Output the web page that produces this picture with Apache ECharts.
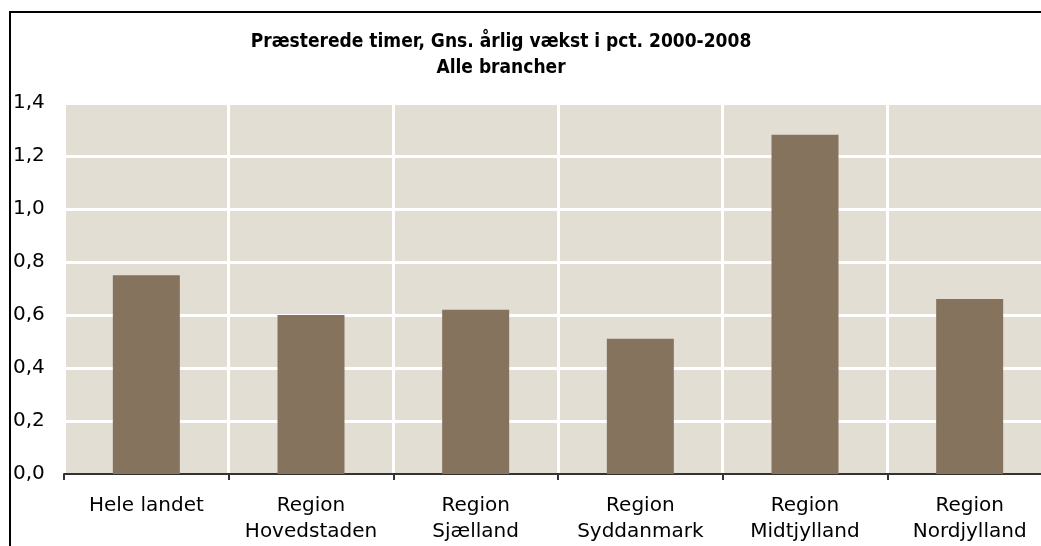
<!DOCTYPE html>
<html>
<head>
<meta charset="utf-8">
<script src="https://cdn.jsdelivr.net/npm/echarts@6/dist/echarts.min.js"></script>
<style>
  html, body { margin: 0; padding: 0; background: #fff; overflow: hidden; }
  #wrap { position: relative; width: 1041px; height: 546px; overflow: hidden; }
  #chart { position: absolute; left: 0; top: 0; width: 1060px; height: 546px; }
  #frame {
    position: absolute; left: 9px; top: 11px; width: 2000px; height: 2000px;
    border-left: 2px solid #000; border-top: 2px solid #000; pointer-events: none;
  }
</style>
</head>
<body>
<div id="wrap">
  <div id="chart"></div>
  <div id="frame"></div>
</div>
<script>
// data
const categories = [
  'Hele landet',
  'Region\nHovedstaden',
  'Region\nSjælland',
  'Region\nSyddanmark',
  'Region\nMidtjylland',
  'Region\nNordjylland',
];
const growthPct = [0.75, 0.60, 0.62, 0.51, 1.28, 0.66];
const titleLines = ['Præsterede timer, Gns. årlig vækst i pct. 2000-2008', 'Alle brancher'];

const chart = echarts.init(document.getElementById('chart'));

const option = {
  animation: false,
  textStyle: { fontFamily: 'DejaVu Sans' },
  title: {
    text: titleLines.join('\n'),
    left: 496,
    top: 24,
    textAlign: 'center',
    textStyle: {
      fontFamily: 'DejaVu Sans Condensed',
      fontSize: 19,
      fontWeight: 'bold',
      color: '#000',
      lineHeight: 26,
    },
  },
  grid: {
    left: 64,
    right: 8,
    top: 103,
    bottom: 72,
    show: true,
    backgroundColor: '#e2ded4',
    borderWidth: 0,
  },
  xAxis: {
    type: 'category',
    data: categories,
    axisLine: { show: true, lineStyle: { color: '#333', width: 2 } },
    axisTick: { show: true, length: 6, lineStyle: { color: '#333', width: 2 } },
    splitLine: { show: true, lineStyle: { color: '#fff', width: 3 } },
    axisLabel: {
      color: '#000',
      fontFamily: 'DejaVu Sans',
      fontSize: 20,
      lineHeight: 26,
      margin: 19,
      interval: 0,
    },
  },
  yAxis: {
    type: 'value',
    min: 0,
    max: 1.4,
    interval: 0.2,
    axisLine: { show: false },
    axisTick: { show: false },
    splitLine: { show: true, lineStyle: { color: '#fff', width: 3 } },
    axisLabel: {
      color: '#000',
      fontFamily: 'DejaVu Sans',
      fontSize: 20,
      align: 'left',
      margin: 51,
      formatter: (v) => v.toFixed(1).replace('.', ','),
    },
  },
  series: [
    {
      type: 'bar',
      data: growthPct,
      barWidth: 67,
      itemStyle: { color: '#85735e' },
    },
  ],
};

chart.setOption(option);
</script>
</body>
</html>
